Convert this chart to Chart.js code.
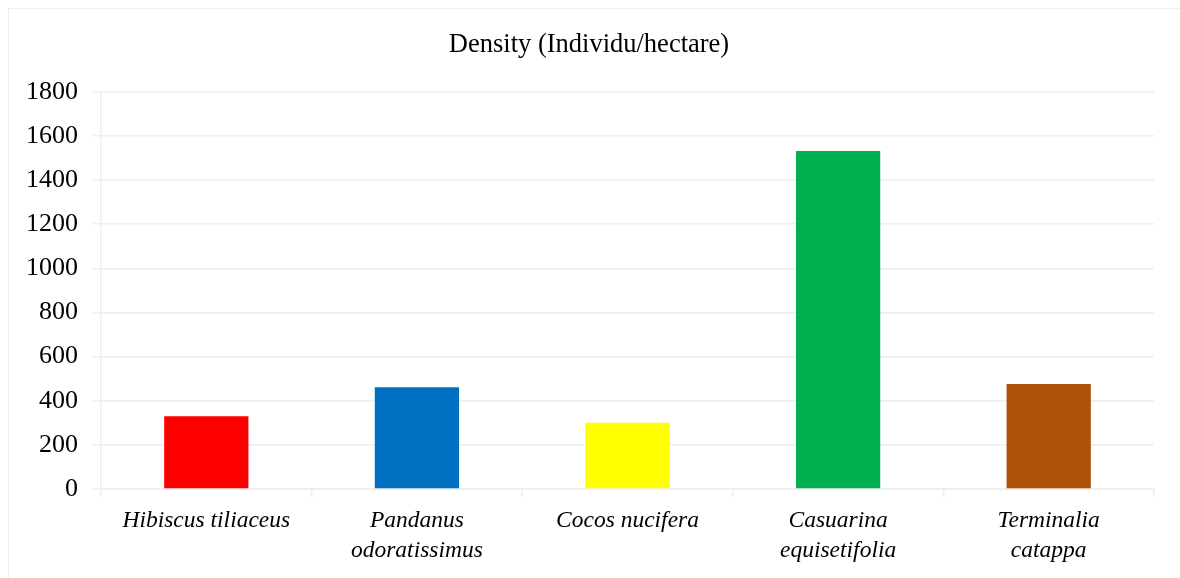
<!DOCTYPE html>
<html>
<head>
<meta charset="utf-8">
<script src="https://cdn.jsdelivr.net/npm/chart.js@4/dist/chart.umd.min.js"></script>
<style>
  html, body { margin: 0; padding: 0; background: #ffffff; }
  #wrap { position: relative; width: 1180px; height: 578px; overflow: hidden; }
  #frame { position: absolute; left: 8px; top: 8px; width: 1200px; height: 600px;
           border: 1.5px solid #eeeeee; box-sizing: border-box; }
  canvas { position: absolute; left: 0; top: 0; }
</style>
</head>
<body>
<div id="wrap">
  <div id="frame"></div>
  <canvas id="chart" width="1180" height="578"></canvas>
</div>
<script>
// Species names (split over two lines where the axis wraps them)
const species = [
  ['Hibiscus tiliaceus'],
  ['Pandanus', 'odoratissimus'],
  ['Cocos nucifera'],
  ['Casuarina', 'equisetifolia'],
  ['Terminalia', 'catappa']
];
// Density, individuals per hectare
const density = [330, 461, 300, 1532, 476];
const barColors = ['#ff0000', '#0070c0', '#ffff00', '#00b050', '#ae5208'];
const titleText = 'Density (Individu/hectare)';
const yMax = 1800;
const yStep = 200;

const serif = "'Liberation Serif', 'Times New Roman', Times, serif";
const gridColor = '#eeeeee';

new Chart(document.getElementById('chart'), {
  type: 'bar',
  data: {
    labels: species,
    datasets: [{
      data: density,
      backgroundColor: barColors,
      borderWidth: 0,
      barPercentage: 0.4,
      categoryPercentage: 1.0
    }]
  },
  options: {
    responsive: false,
    animation: false,
    devicePixelRatio: 1,
    layout: { padding: { top: 12, left: 24, right: 26, bottom: 3 } },
    plugins: {
      legend: { display: false },
      tooltip: { enabled: false },
      title: {
        display: true,
        text: titleText,
        color: '#000000',
        font: { family: serif, size: 26.5, weight: 'normal', lineHeight: 1.2 },
        padding: { top: 17, bottom: 31 }
      }
    },
    scales: {
      x: {
        offset: true,
        grid: {
          display: true,
          drawOnChartArea: false,
          drawTicks: true,
          tickLength: 8,
          color: gridColor,
          lineWidth: 1.5,
          offset: true
        },
        border: { display: true, color: gridColor, width: 1.5 },
        ticks: {
          color: '#000000',
          padding: 9,
          maxRotation: 0,
          autoSkip: false,
          font: { family: serif, size: 23.5, style: 'italic', lineHeight: 30 / 23.5 }
        }
      },
      y: {
        min: 0,
        max: yMax,
        afterFit: (scale) => { scale.width = 77; },
        grid: {
          color: gridColor,
          lineWidth: 1.5,
          drawTicks: true,
          tickLength: 8
        },
        border: { display: true, color: gridColor, width: 1.5 },
        ticks: {
          stepSize: yStep,
          color: '#000000',
          padding: 15,
          font: { family: serif, size: 26 },
          callback: (v) => String(v)
        }
      }
    }
  }
});
</script>
</body>
</html>
